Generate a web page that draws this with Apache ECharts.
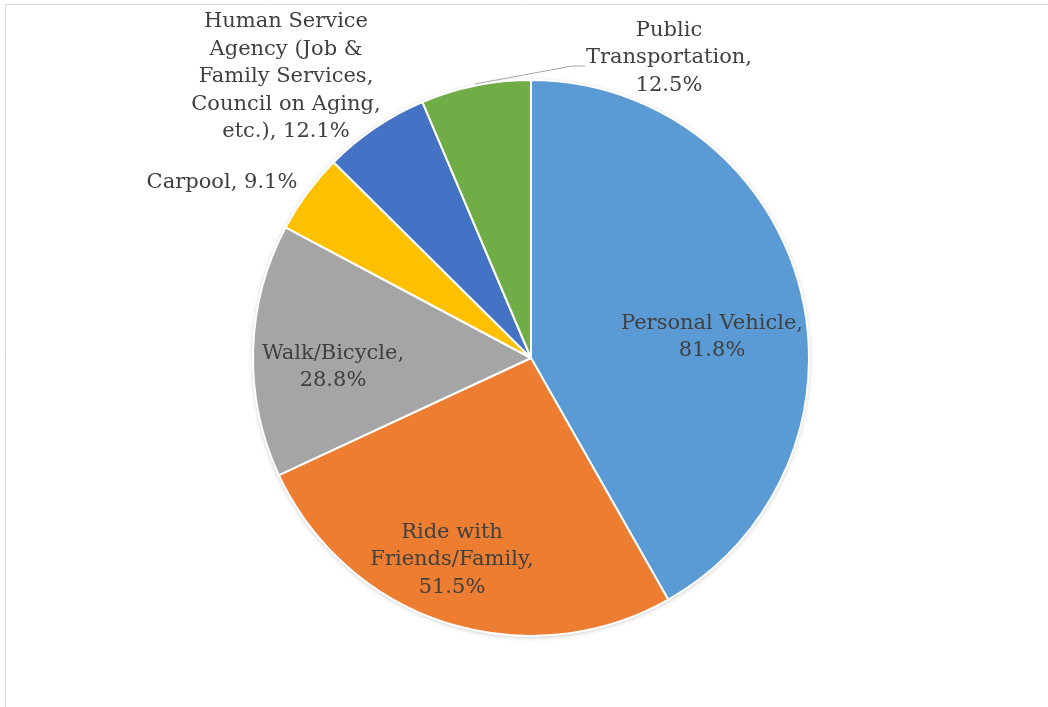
<!DOCTYPE html>
<html>
<head>
<meta charset="utf-8">
<script src="https://cdn.jsdelivr.net/npm/echarts@6/dist/echarts.min.js"></script>
<style>
  html, body { margin: 0; padding: 0; background: #ffffff; }
  #chart { width: 1048px; height: 707px; }
</style>
</head>
<body>
<div id="chart"></div>
<script>
// Transportation modes (label names wrapped as they are printed)
const categories = [
  'Personal Vehicle',
  'Ride with\nFriends/Family',
  'Walk/Bicycle',
  'Carpool',
  'Human Service\nAgency (Job &\nFamily Services,\nCouncil on Aging,\netc.)',
  'Public\nTransportation'
];
// Share of respondents using each mode (%)
const values = [81.8, 51.5, 28.8, 9.1, 12.1, 12.5];
// Whether the percentage starts on its own line in the label
const valueOnNewLine = [true, true, true, false, false, true];

const colors = ['#5B9BD5', '#ED7D31', '#A5A5A5', '#FFC000', '#4472C4', '#70AD47'];

// Label anchor points (centre of each text block) and the leader line for the outside label
const labelSpots = [
  { x: 712, y: 337 },
  { x: 452, y: 560 },
  { x: 333, y: 367 },
  { x: 222, y: 183 },
  { x: 286, y: 77 },
  { x: 669, y: 58, line: [[475, 84], [572, 66], [585, 66]] }
];

const chart = echarts.init(document.getElementById('chart'), null, { renderer: 'canvas' });

const textFont = '"DejaVu Serif", "Liberation Serif", serif';

chart.setOption({
  animation: false,
  backgroundColor: '#ffffff',
  graphic: [{
    type: 'rect',
    shape: { x: 5.5, y: 4.5, width: 1100, height: 800 },
    style: { fill: 'none', stroke: '#d9d9d9', lineWidth: 1 },
    silent: true,
    z: -10
  }],
  series: [
    {
      // soft shadow under the whole disc
      type: 'pie',
      center: [531, 358],
      radius: 278,
      silent: true,
      z: 1,
      label: { show: false },
      labelLine: { show: false },
      itemStyle: {
        color: '#ffffff',
        shadowBlur: 5,
        shadowColor: 'rgba(0,0,0,0.25)',
        shadowOffsetY: 1
      },
      data: [{ value: 1, name: '' }]
    },
    {
      type: 'pie',
      center: [531, 358],
      radius: 278,
      startAngle: 90,
      clockwise: true,
      z: 2,
      avoidLabelOverlap: false,
      itemStyle: { borderColor: '#ffffff', borderWidth: 2 },
      label: {
        show: true,
        position: 'outside',
        color: '#404040',
        fontFamily: textFont,
        fontSize: 21,
        lineHeight: 27.5,
        align: 'center',
        formatter: function (p) {
          const sep = valueOnNewLine[p.dataIndex] ? ',\n' : ', ';
          return p.name + sep + p.value.toFixed(1) + '%';
        }
      },
      labelLine: {
        show: true,
        lineStyle: { color: '#a6a6a6', width: 1 },
        length: 10,
        length2: 10
      },
      labelLayout: function (params) {
        const s = labelSpots[params.dataIndex];
        const out = {
          x: s.x,
          y: s.y,
          align: 'center',
          verticalAlign: 'middle'
        };
        if (s.line) {
          out.labelLinePoints = s.line;
        }
        return out;
      },
      emphasis: { disabled: true },
      data: categories.map(function (name, i) {
        const item = {
          name: name,
          value: values[i],
          itemStyle: { color: colors[i] }
        };
        if (i !== 5) {
          item.labelLine = { show: false };
        }
        return item;
      })
    }
  ]
});
</script>
</body>
</html>
